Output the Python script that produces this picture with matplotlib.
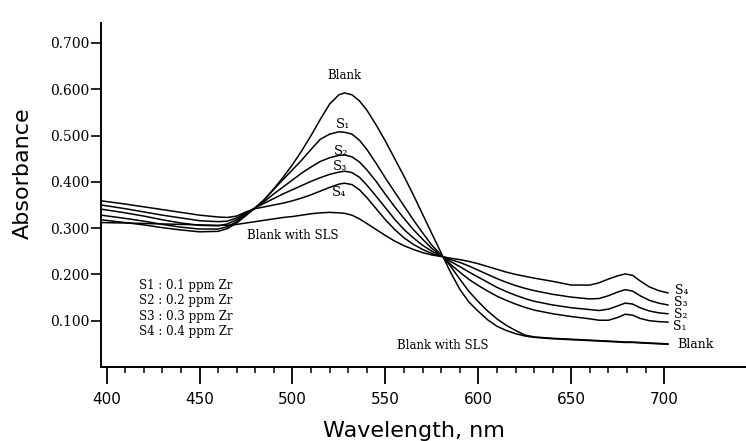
import matplotlib
matplotlib.use("Agg")
import matplotlib.pyplot as plt
from matplotlib.ticker import FixedLocator

# ---------------------------
# Data
# ---------------------------
wavelength = [397, 410, 420, 430, 440, 450, 460, 465, 470, 475,
              480, 485, 490, 495, 500, 505, 510, 515, 520, 525,
              528, 532, 536, 540, 545, 550, 555, 560, 565, 570,
              575, 581, 585, 590, 595, 600, 605, 610, 615, 620,
              625, 630, 640, 650, 660, 665, 670, 675, 679, 683,
              687, 692, 697, 702]

blank = [0.318, 0.312, 0.307, 0.301, 0.296, 0.292, 0.293, 0.299, 0.311, 0.327,
         0.344, 0.362, 0.385, 0.410, 0.437, 0.467, 0.500, 0.535, 0.568, 0.588,
         0.592, 0.588, 0.575, 0.555, 0.523, 0.488, 0.450, 0.412, 0.372, 0.330,
         0.288, 0.238, 0.205, 0.168, 0.140, 0.120, 0.102, 0.088, 0.079, 0.072,
         0.067, 0.064, 0.061, 0.059, 0.057, 0.056, 0.055, 0.054, 0.053, 0.053,
         0.052, 0.051, 0.050, 0.049]

s1 = [0.328, 0.321, 0.315, 0.308, 0.302, 0.298, 0.298, 0.303, 0.314, 0.329,
      0.344, 0.362, 0.384, 0.405, 0.426, 0.447, 0.470, 0.492, 0.503, 0.508,
      0.507, 0.503, 0.490, 0.470, 0.440, 0.408, 0.378, 0.348, 0.318, 0.290,
      0.263, 0.238, 0.222, 0.205, 0.189, 0.176, 0.164, 0.153, 0.144, 0.136,
      0.129, 0.123, 0.115, 0.109, 0.104, 0.101, 0.101, 0.107, 0.114, 0.112,
      0.105, 0.100, 0.098, 0.097]

s2 = [0.341, 0.333, 0.326, 0.318, 0.311, 0.306, 0.305, 0.309, 0.318, 0.331,
      0.344, 0.358, 0.374, 0.389, 0.404, 0.419, 0.432, 0.444, 0.452, 0.457,
      0.458, 0.454, 0.443, 0.426, 0.401, 0.373, 0.346, 0.321, 0.297, 0.276,
      0.256, 0.238, 0.228, 0.217, 0.205, 0.194, 0.183, 0.172, 0.163, 0.155,
      0.148, 0.142, 0.134, 0.128, 0.124, 0.122, 0.125, 0.132, 0.138, 0.136,
      0.128, 0.121, 0.117, 0.115]

s3 = [0.350, 0.342, 0.335, 0.328, 0.322, 0.316, 0.314, 0.315, 0.322, 0.333,
      0.344, 0.354, 0.364, 0.374, 0.383, 0.392, 0.401, 0.409, 0.416, 0.421,
      0.423, 0.420, 0.410, 0.393, 0.369, 0.344, 0.319, 0.297, 0.279, 0.263,
      0.250, 0.238, 0.232, 0.226, 0.218, 0.209, 0.200, 0.191, 0.183, 0.176,
      0.170, 0.165, 0.157, 0.151, 0.147, 0.148, 0.154, 0.162, 0.167, 0.164,
      0.154, 0.144, 0.138, 0.134]

s4 = [0.359, 0.352, 0.346, 0.340, 0.334, 0.328, 0.324, 0.323, 0.326, 0.335,
      0.342, 0.346, 0.350, 0.354, 0.359, 0.365, 0.372, 0.380, 0.388, 0.395,
      0.397, 0.394, 0.383, 0.366, 0.342, 0.318, 0.297, 0.279, 0.265, 0.254,
      0.245, 0.238, 0.235, 0.232, 0.228, 0.223, 0.217, 0.211, 0.205, 0.200,
      0.196, 0.192, 0.185, 0.177, 0.177, 0.182, 0.190, 0.197, 0.201, 0.198,
      0.186, 0.173, 0.165, 0.160]

blank_sls = [0.312, 0.311, 0.310, 0.309, 0.308, 0.307, 0.306, 0.306, 0.308, 0.311,
             0.314, 0.317, 0.320, 0.323, 0.325, 0.328, 0.331, 0.333, 0.334, 0.333,
             0.332, 0.328, 0.320, 0.310, 0.297, 0.284, 0.272, 0.262, 0.254, 0.247,
             0.242, 0.238, 0.218, 0.190, 0.163, 0.141, 0.121, 0.104, 0.090, 0.079,
             0.069, 0.065, 0.062, 0.060, 0.058, 0.057, 0.056, 0.055, 0.054, 0.054,
             0.053, 0.052, 0.051, 0.050]

x_ticks = [400, 450, 500, 550, 600, 650, 700]
y_ticks = [0.1, 0.2, 0.3, 0.4, 0.5, 0.6, 0.7]
legend_lines = ["S1 : 0.1 ppm Zr", "S2 : 0.2 ppm Zr",
                "S3 : 0.3 ppm Zr", "S4 : 0.4 ppm Zr"]

# ---------------------------
# Figure
# ---------------------------
fig = plt.figure(figsize=(7.46, 4.41), dpi=100)
ax = fig.add_axes([0.1354, 0.1678, 0.8646, 0.780])

for series in [blank, s1, s2, s3, s4, blank_sls]:
    ax.plot(wavelength, series, color="black", lw=1.1)

ax.set_xlim(397, 744)
ax.set_ylim(0, 0.743)

ax.spines["top"].set_visible(False)
ax.spines["right"].set_visible(False)
ax.spines["left"].set_linewidth(1.4)
ax.spines["bottom"].set_linewidth(1.4)

ax.xaxis.set_major_locator(FixedLocator(x_ticks))
ax.xaxis.set_minor_locator(FixedLocator([v for v in range(410, 700, 10) if v % 50]))
ax.tick_params(axis="x", which="major", direction="out", length=12, width=1.3,
               pad=6, labelsize=11)
ax.tick_params(axis="x", which="minor", direction="out", length=4.5, width=1.1)
ax.set_xticklabels([str(v) for v in x_ticks], family="DejaVu Sans")

ax.yaxis.set_major_locator(FixedLocator(y_ticks))
ax.tick_params(axis="y", which="major", direction="out", length=7, width=1.2,
               pad=1.5, labelsize=10)
ax.set_yticklabels(["%.3f" % v for v in y_ticks], family="DejaVu Serif")

fig.text(0.031, 0.608, "Absorbance", rotation=90, ha="center", va="center",
         fontsize=16, family="DejaVu Sans")
fig.text(0.555, 0.009, "Wavelength, nm", ha="center", va="baseline",
         fontsize=16, family="DejaVu Sans")

# curve labels
lab = dict(family="DejaVu Serif", fontsize=8.5, ha="center", va="center")
sub = dict(lab, fontsize=9.5)
ax.text(528, 0.629, "Blank", **lab)
ax.text(527.4, 0.524, "S₁", **sub)
ax.text(526.3, 0.466, "S₂", **sub)
ax.text(525.8, 0.433, "S₃", **sub)
ax.text(525.3, 0.377, "S₄", **sub)
ax.text(500, 0.283, "Blank with SLS", **lab)
ax.text(580.6, 0.046, "Blank with SLS", **lab)

right = dict(lab, fontsize=9, ha="left")
ax.text(706, 0.166, "S₄", **right)
ax.text(705.5, 0.139, "S₃", **right)
ax.text(705, 0.113, "S₂", **right)
ax.text(704.5, 0.088, "S₁", **right)
ax.text(707, 0.048, "Blank", **right)

# concentration key
for i, line in enumerate(legend_lines):
    ax.text(417.2, 0.177 - i * 0.0335, line, family="DejaVu Serif",
            fontsize=8.5, ha="left", va="center")

plt.savefig("out.png", dpi=100)
